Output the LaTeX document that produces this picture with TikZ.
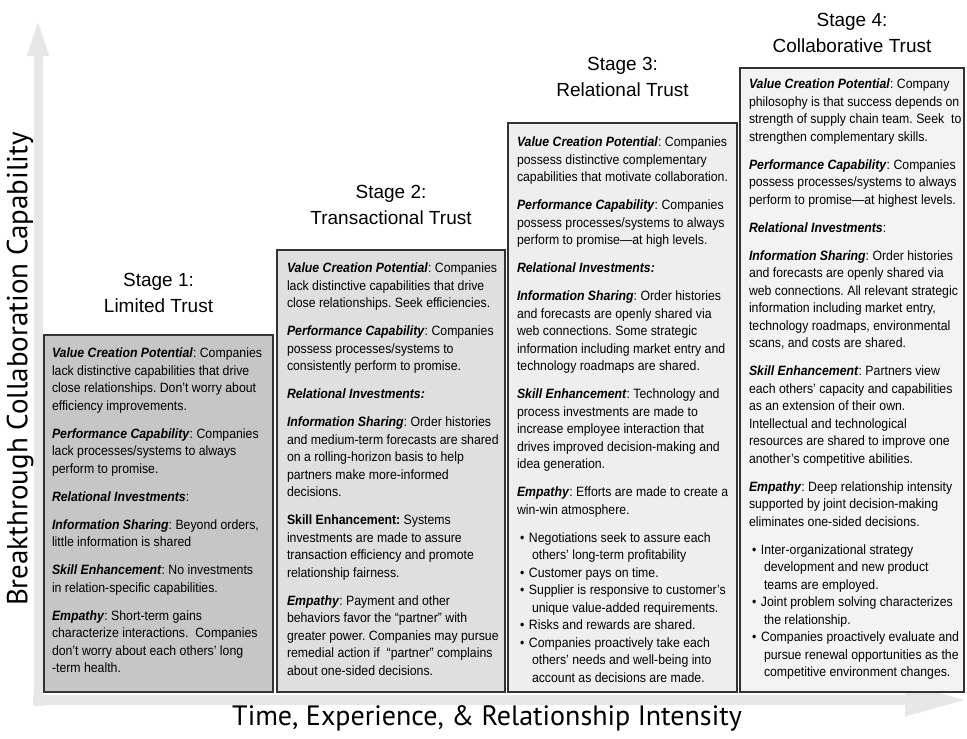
\documentclass[tikz,border=0pt]{standalone}
\usepackage{fontspec}
\usepackage{tikz}
\usetikzlibrary{positioning, arrows.meta}
\newfontfamily\boxfont[FakeStretch=0.91]{Liberation Sans}
\newfontfamily\titlefont{Liberation Sans}
\newfontfamily\axisfont{PT Sans}
\definecolor{stageone}{RGB}{198, 198, 198}
\definecolor{stagetwo}{RGB}{223, 223, 223}
\definecolor{stagethree}{RGB}{238, 238, 238}
\definecolor{stagefour}{RGB}{243, 243, 243}
\definecolor{axisgrey}{RGB}{231, 231, 231}
\newcommand{\keyterm}[1]{\textbf{\textit{#1}}}
\newcommand{\pgap}{\\[10.5pt]}
\newcommand{\trustbullet}{\hspace*{3pt}\makebox[9pt][l]{\textbullet}}
\newcommand{\trustcont}{\hspace*{15pt}}

\begin{document}
\begin{tikzpicture}[x=1pt, y=-1pt, node distance=4pt,
    every node/.style={inner sep=0pt, outer sep=0pt},
    stagebox/.style={draw=black!80, line width=1.2pt, anchor=south west},
    stagetext/.style={align=left, font=\boxfont\fontsize{13.5pt}{17.5pt}\selectfont\frenchspacing},
    stagetitle/.style={align=center, font=\titlefont\fontsize{19pt}{26pt}\selectfont},
    axislabel/.style={font=\axisfont\fontsize{28pt}{32pt}\selectfont}]
    \useasboundingbox (0,0) rectangle (967,739);

    \coordinate (origin) at (33,700);
    \coordinate (ybase) at (38,706);
    \coordinate (ytip) at (38,18);
    \coordinate (xtip) at (967,700);
    \draw[axisgrey, line width=10pt, -{Triangle[width=30pt, length=62pt]}] (origin) -- (xtip);
    \draw[axisgrey, line width=9pt, -{Triangle[width=19pt, length=38pt]}] (ybase) -- (ytip);

    \node[stagebox, fill=stageone, minimum width=229pt, minimum height=357pt] (b1) at (44,692) {};
    \node[stagebox, fill=stagetwo, minimum width=228pt, minimum height=442pt,
      right=4pt of b1.south east, anchor=south west] (b2) {};
    \node[stagebox, fill=stagethree, minimum width=229pt, minimum height=569pt,
      right=3pt of b2.south east, anchor=south west] (b3) {};
    \node[stagebox, fill=stagefour, minimum width=224pt, minimum height=624pt,
      right=3pt of b3.south east, anchor=south west] (b4) {};

    \node[stagetitle, above=22pt of b1] (s1) {Stage 1:\\Limited Trust};
    \node[stagetitle, above=25pt of b2] (s2) {Stage 2:\\Transactional Trust};
    \node[stagetitle, above=26pt of b3] (s3) {Stage 3:\\Relational Trust};
    \node[stagetitle, above=15pt of b4] (s4) {Stage 4:\\Collaborative Trust};

    \node[stagetext, below right=13pt and 8pt of b1.north west] (t1)
      {\keyterm{Value Creation Potential}: Companies\\
       lack distinctive capabilities that drive\\
       close relationships. Don’t worry about\\
       efficiency improvements.\pgap
       \keyterm{Performance Capability}: Companies\\
       lack processes/systems to always\\
       perform to promise.\pgap
       \keyterm{Relational Investments}:\pgap
       \keyterm{Information Sharing}: Beyond orders,\\
       little information is shared\pgap
       \keyterm{Skill Enhancement}: No investments\\
       in relation-specific capabilities.\pgap
       \keyterm{Empathy}: Short-term gains\\
       characterize interactions.\ \ Companies\\
       don’t worry about each others’ long\\
       -term health.};

    \node[stagetext, below right=13pt and 10pt of b2.north west] (t2)
      {\keyterm{Value Creation Potential}: Companies\\
       lack distinctive capabilities that drive\\
       close relationships. Seek efficiencies.\pgap
       \keyterm{Performance Capability}: Companies\\
       possess processes/systems to\\
       consistently perform to promise.\pgap
       \keyterm{Relational Investments:}\pgap
       \keyterm{Information Sharing}: Order histories\\
       and medium-term forecasts are shared\\
       on a rolling-horizon basis to help\\
       partners make more-informed\\
       decisions.\pgap
       \textbf{Skill Enhancement:} Systems\\
       investments are made to assure\\
       transaction efficiency and promote\\
       relationship fairness.\pgap
       \keyterm{Empathy}: Payment and other\\
       behaviors favor the “partner” with\\
       greater power. Companies may pursue\\
       remedial action if\ \ “partner” complains\\
       about one-sided decisions.};

    \node[stagetext, below right=14pt and 9pt of b3.north west] (t3)
      {\keyterm{Value Creation Potential}: Companies\\
       possess distinctive complementary\\
       capabilities that motivate collaboration.\pgap
       \keyterm{Performance Capability}: Companies\\
       possess processes/systems to always\\
       perform to promise—at high levels.\pgap
       \keyterm{Relational Investments:}\pgap
       \keyterm{Information Sharing}: Order histories\\
       and forecasts are openly shared via\\
       web connections. Some strategic\\
       information including market entry and\\
       technology roadmaps are shared.\pgap
       \keyterm{Skill Enhancement}: Technology and\\
       process investments are made to\\
       increase employee interaction that\\
       drives improved decision-making and\\
       idea generation.\pgap
       \keyterm{Empathy}: Efforts are made to create a\\
       win-win atmosphere.\pgap
       \trustbullet Negotiations seek to assure each\\
       \trustcont others’ long-term profitability\\
       \trustbullet Customer pays on time.\\
       \trustbullet Supplier is responsive to customer’s\\
       \trustcont unique value-added requirements.\\
       \trustbullet Risks and rewards are shared.\\
       \trustbullet Companies proactively take each\\
       \trustcont others’ needs and well-being into\\
       \trustcont account as decisions are made.};

    \node[stagetext, below right=11pt and 9pt of b4.north west] (t4)
      {\keyterm{Value Creation Potential}: Company\\
       philosophy is that success depends on\\
       strength of supply chain team. Seek\ \ to\\
       strengthen complementary skills.\pgap
       \keyterm{Performance Capability}: Companies\\
       possess processes/systems to always\\
       perform to promise—at highest levels.\pgap
       \keyterm{Relational Investments}:\pgap
       \keyterm{Information Sharing}: Order histories\\
       and forecasts are openly shared via\\
       web connections. All relevant strategic\\
       information including market entry,\\
       technology roadmaps, environmental\\
       scans, and costs are shared.\pgap
       \keyterm{Skill Enhancement}: Partners view\\
       each others’ capacity and capabilities\\
       as an extension of their own.\\
       Intellectual and technological\\
       resources are shared to improve one\\
       another’s competitive abilities.\pgap
       \keyterm{Empathy}: Deep relationship intensity\\
       supported by joint decision-making\\
       eliminates one-sided decisions.\pgap
       \trustbullet Inter-organizational strategy\\
       \trustcont development and new product\\
       \trustcont teams are employed.\\
       \trustbullet Joint problem solving characterizes\\
       \trustcont the relationship.\\
       \trustbullet Companies proactively evaluate and\\
       \trustcont pursue renewal opportunities as the\\
       \trustcont competitive environment changes.};

    \node[axislabel, rotate=90, font=\axisfont\fontsize{29pt}{32pt}\selectfont] (ylab) at (20,369) {Breakthrough Collaboration Capability};
    \node[axislabel] (xlab) at (487,718) {Time, Experience, \& Relationship Intensity};
  \end{tikzpicture}
\end{document}
